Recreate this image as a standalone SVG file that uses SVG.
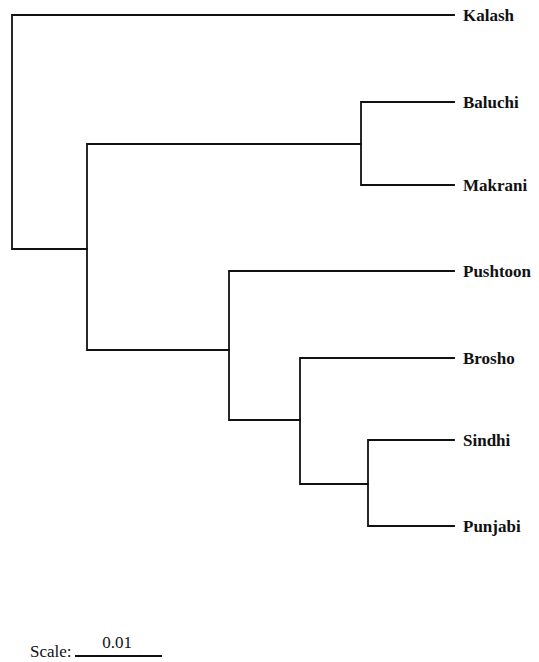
<svg xmlns="http://www.w3.org/2000/svg" width="539" height="662" viewBox="0 0 539 662">
  <style>
    .br { fill: none; stroke: #111; stroke-width: 1.8; stroke-linecap: square; }
    .lab { font-family: "Liberation Serif", "Times New Roman", serif; font-weight: bold; font-size: 17px; fill: #111; }
    .sc { font-family: "Liberation Serif", "Times New Roman", serif; font-size: 17px; fill: #111; }
  </style>
  <rect width="539" height="662" fill="#fff"/>
  <!-- tree branches -->
  <g id="connectors">
    <path class="br" d="M12,15 V249 M12,15 H454 M12,249 H87"/>
    <path class="br" d="M87,144 V350 M87,144 H361 M87,350 H229"/>
    <path class="br" d="M361,102 V185 M361,102 H454 M361,185 H454"/>
    <path class="br" d="M229,271 V420 M229,271 H454 M229,420 H300"/>
    <path class="br" d="M300,358 V484 M300,358 H454 M300,484 H368"/>
    <path class="br" d="M368,440 V526 M368,440 H454 M368,526 H454"/>
  </g>
  <!-- taxa -->
  <g id="kalash"><text class="lab" x="463" y="21">Kalash</text></g>
  <g id="baluchi"><text class="lab" x="463" y="108">Baluchi</text></g>
  <g id="makrani"><text class="lab" x="463" y="191">Makrani</text></g>
  <g id="pushtoon"><text class="lab" x="463" y="277">Pushtoon</text></g>
  <g id="brosho"><text class="lab" x="463" y="364">Brosho</text></g>
  <g id="sindhi"><text class="lab" x="463" y="446">Sindhi</text></g>
  <g id="punjabi"><text class="lab" x="463" y="532">Punjabi</text></g>
  <!-- scale bar -->
  <g id="scale">
    <text class="sc" x="30" y="657">Scale:</text>
    <line x1="75" y1="656" x2="162" y2="656" stroke="#111" stroke-width="1.8"/>
    <text class="sc" x="117" y="648" text-anchor="middle">0.01</text>
  </g>
</svg>
